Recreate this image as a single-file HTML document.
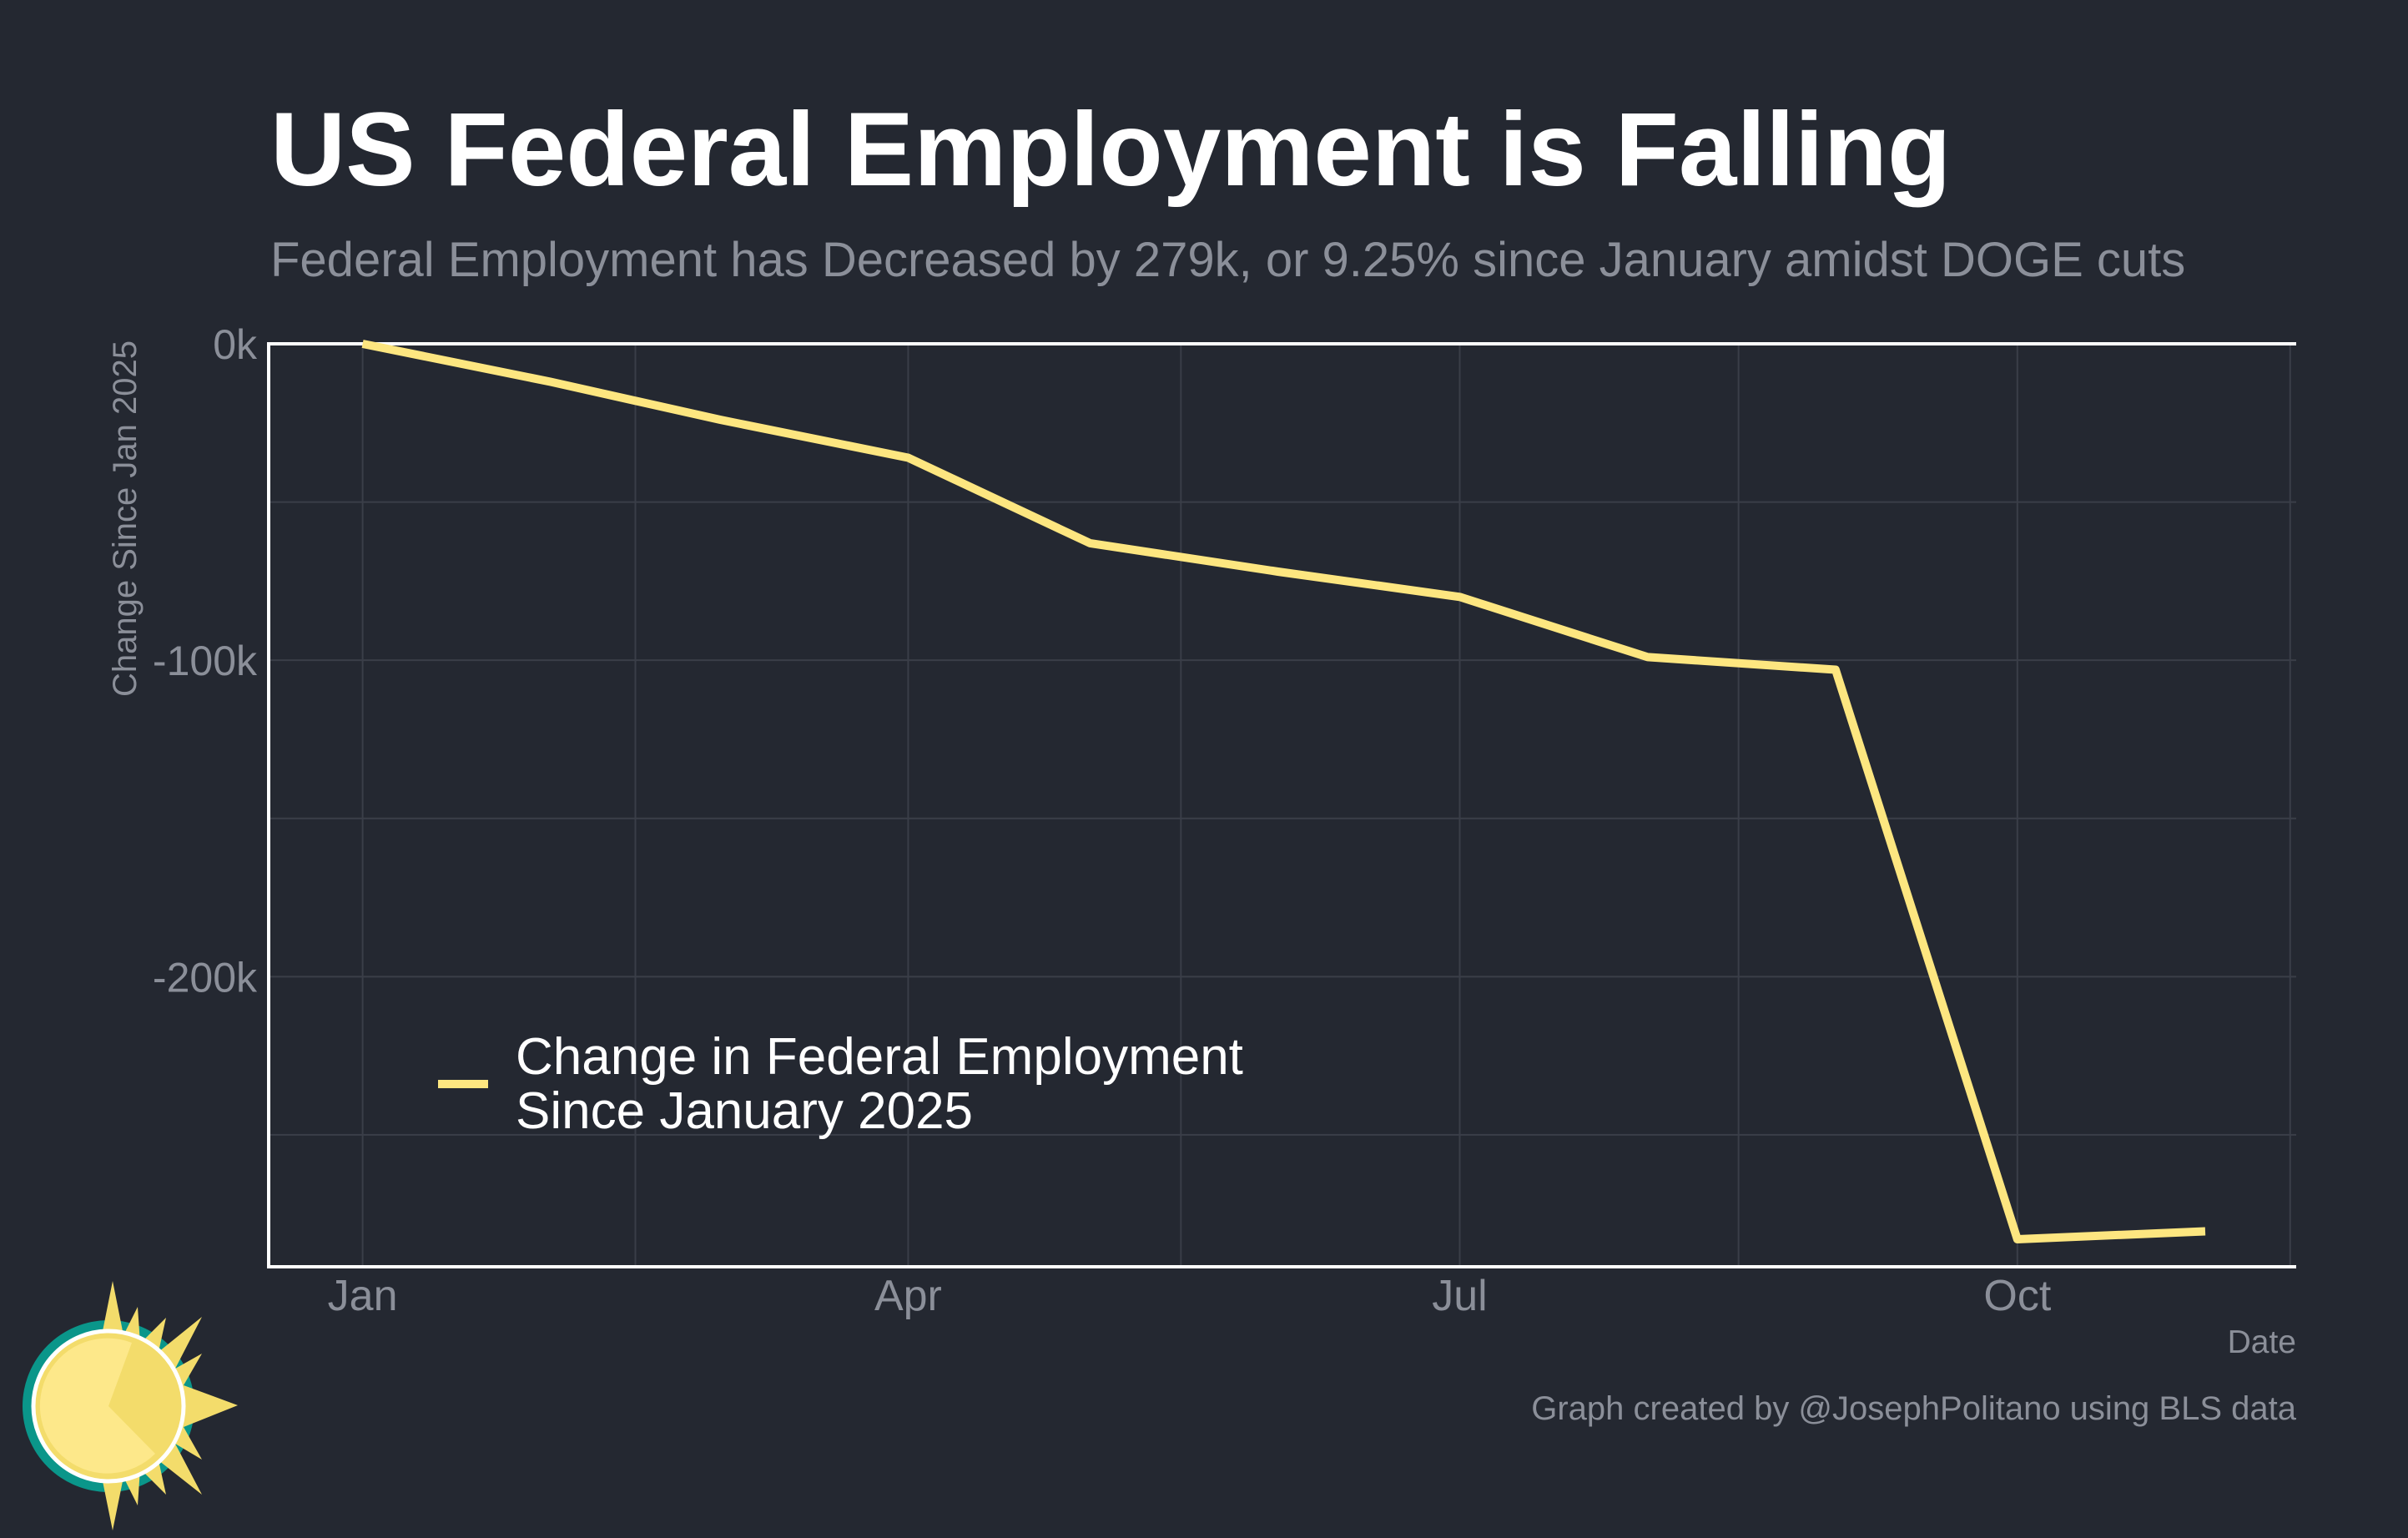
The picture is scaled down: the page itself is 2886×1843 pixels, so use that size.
<!DOCTYPE html>
<html><head><meta charset="utf-8"><style>
html,body{margin:0;padding:0;background:#242831;}
svg{display:block;}
text{font-family:"Liberation Sans",sans-serif;}
</style></head><body>
<svg width="2886" height="1843" viewBox="0 0 2886 1843" xmlns="http://www.w3.org/2000/svg">
<rect width="2886" height="1843" fill="#242831"/>
<text x="324" y="222" font-size="125" font-weight="bold" fill="#ffffff">US Federal Employment is Falling</text>
<text x="324" y="331" font-size="58" fill="#8b8f99">Federal Employment has Decreased by 279k, or 9.25% since January amidst DOGE cuts</text>
<g id="grid"></g>
<g id="axes"></g>
<g id="series"></g>
<text transform="translate(163,408) rotate(-90)" text-anchor="end" font-size="40" fill="#8b8f99">Change Since Jan 2025</text>
<text x="2752" y="1621" text-anchor="end" font-size="39" fill="#8b8f99">Date</text>
<text x="2752" y="1701" text-anchor="end" font-size="40" fill="#8b8f99">Graph created by @JosephPolitano using BLS data</text>
<g>
<line x1="525" y1="1299" x2="585" y2="1299" stroke="#fde680" stroke-width="10"/>
<text x="618" y="1287" font-size="62" fill="#ffffff"><tspan x="618">Change in Federal Employment</tspan><tspan x="618" y="1352">Since January 2025</tspan></text>
</g>
<g>
<circle cx="130" cy="1685" r="103" fill="#0a968a"/>
<polygon fill="#f3dc6b" points="122,1600 135,1535 148,1600 165,1566 168,1610 199,1579 190,1620 242,1578 210,1640 242,1622 220,1660 285,1684 220,1710 242,1749 210,1730 242,1791 190,1750 199,1791 168,1760 165,1804 148,1770 135,1834 122,1770"/>
<circle cx="130" cy="1685" r="90" fill="#f3dc6b" stroke="#ffffff" stroke-width="5"/>
<path d="M130,1685 L158,1609 A81,81 0 1 0 186,1742 Z" fill="#fde88a"/>
</g>
</svg>
<script>
const months = ["2025-01-01","2025-02-01","2025-03-01","2025-04-01","2025-05-01","2025-06-01","2025-07-01","2025-08-01","2025-09-01","2025-10-01","2025-11-01"];
const values = [0, -12, -24, -36, -63, -72, -80, -99, -103, -283, -280.5];
const yTicks = [0, -100, -200];
const yTickLabels = ["0k", "-100k", "-200k"];
const yMinor = [-50, -150, -250];
const xTicks = ["2025-01-01","2025-04-01","2025-07-01","2025-10-01"];
const xTickLabels = ["Jan","Apr","Jul","Oct"];
const xMinor = ["2025-02-15","2025-05-16","2025-08-16","2025-11-15"];

const NS = "http://www.w3.org/2000/svg";
const L = 322, R = 2752, T = 412, B = 1518;
const base = Date.UTC(2025,0,1);
function day(s){ const p=s.split("-"); return (Date.UTC(+p[0],+p[1]-1,+p[2])-base)/86400000; }
const dMin = -15.5, dMax = 319;
const yMax = 0, yMin = -291.7;
function xs(s){ return L + (day(s)-dMin)/(dMax-dMin)*(R-L); }
function ys(v){ return T + (yMax-v)/(yMax-yMin)*(B-T); }
function mk(tag, attrs, parent){ const e=document.createElementNS(NS,tag); for(const k in attrs) e.setAttribute(k,attrs[k]); parent.appendChild(e); return e; }

const grid = document.getElementById("grid");
const axes = document.getElementById("axes");
const series = document.getElementById("series");

yMinor.forEach(v=>{
  const l = mk("line",{x1:L,x2:R,y1:ys(v),y2:ys(v),stroke:"#3a3e48","stroke-width":2},grid);
  
  
});
yTicks.forEach((v,i)=>{
  const l = mk("line",{x1:L,x2:R,y1:ys(v),y2:ys(v),stroke:"#3a3e48","stroke-width":2},grid);
  
  
  const t = mk("text",{x:L-14,y:ys(v)+18,"text-anchor":"end","font-size":50,fill:"#8b8f99"},axes);
  t.textContent = yTickLabels[i];
  
  
});
xMinor.forEach(s=>{
  const l = mk("line",{x1:xs(s),x2:xs(s),y1:T,y2:B,stroke:"#3a3e48","stroke-width":2},grid);
  
  
});
xTicks.forEach((s,i)=>{
  const l = mk("line",{x1:xs(s),x2:xs(s),y1:T,y2:B,stroke:"#3a3e48","stroke-width":2},grid);
  
  
  const t = mk("text",{x:xs(s),y:1570,"text-anchor":"middle","font-size":52,fill:"#8b8f99"},axes);
  t.textContent = xTickLabels[i];
  
  
});
const top0 = mk("line",{x1:L,x2:R,y1:ys(0),y2:ys(0),stroke:"#ffffff","stroke-width":4},axes);


const ya = mk("line",{x1:L,x2:L,y1:T-2,y2:B+2,stroke:"#ffffff","stroke-width":4},axes);


const xa = mk("line",{x1:L-2,x2:R,y1:B,y2:B,stroke:"#ffffff","stroke-width":4},axes);



const pts = months.map((m,i)=>xs(m).toFixed(1)+","+ys(values[i]).toFixed(1)).join(" ");
const line = mk("polyline",{points:pts,fill:"none",stroke:"#fde680","stroke-width":10,"stroke-linejoin":"round"},series);


</script>
</body></html>
